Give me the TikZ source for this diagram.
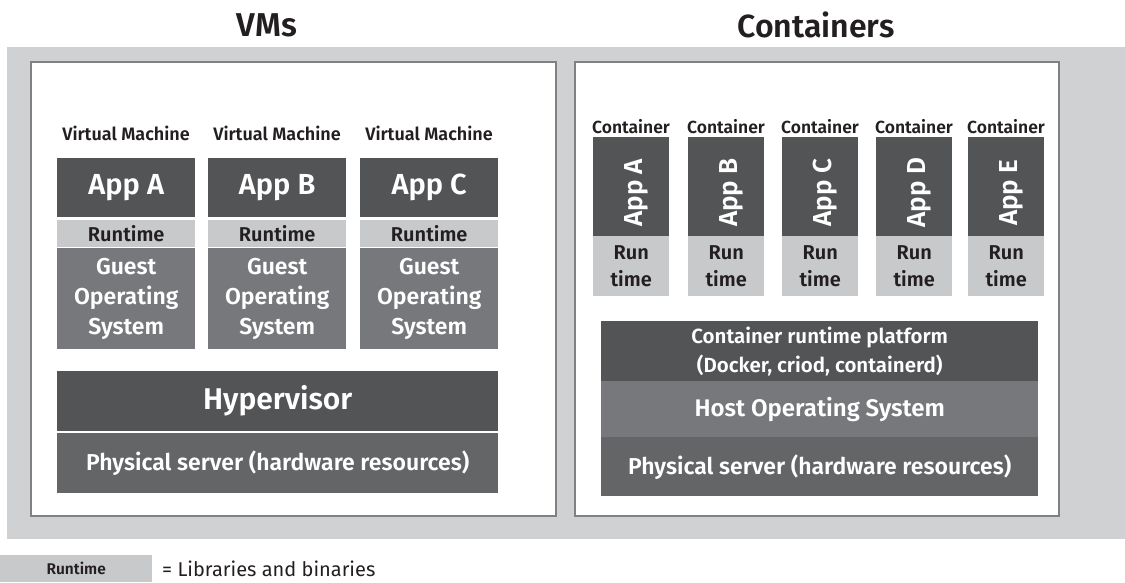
\documentclass[tikz,border=0pt]{standalone}
\usepackage{fontspec}
\setmainfont{Fira Sans}[BoldFont={Fira Sans SemiBold}]
\definecolor{frame}{HTML}{D0D1D3}
\definecolor{edge}{HTML}{808185}
\definecolor{darkbox}{HTML}{535456}
\definecolor{midbox}{HTML}{77787C}
\definecolor{physbox}{HTML}{646567}
\definecolor{rtbox}{HTML}{C8C9CB}
\definecolor{ink}{HTML}{231F20}
\tikzset{
  blk/.style={draw=none, inner sep=0pt, anchor=north west, align=center, font=\bfseries},
  appbox/.style={blk, fill=darkbox, text=white},
  osbox/.style={blk, fill=midbox, text=white},
  physical/.style={blk, fill=physbox, text=white},
  rtblock/.style={blk, fill=rtbox, text=ink},
  lbl/.style={inner sep=0pt, text=ink, font=\bfseries},
}
\begin{document}
\begin{tikzpicture}[x=1pt,y=-1pt]
\useasboundingbox (0,0) rectangle (1125,582);
% outer gray panel and the two white compartments
\fill[frame] (7,47) rectangle (1125,539);
\draw[edge, fill=white, line width=1.5pt] (31,62) rectangle (556,516);
\draw[edge, fill=white, line width=1.5pt] (575,62) rectangle (1059,516);
% headings
\node[lbl, font=\bfseries\fontsize{33}{33}\selectfont] (vmtitle) at (267,25) {VMs};
\node[lbl, font=\bfseries\fontsize{32}{32}\selectfont] (cttitle) at (816,25) {Containers};

% virtual machine stacks
\foreach \n/\x/\l in {a/57/A, b/208/B, c/360/C}{
  \node[lbl, font=\bfseries\fontsize{18}{18}\selectfont] (vm\n) at (\x+69,133) {Virtual Machine};
  \node[appbox, minimum width=138pt, minimum height=59pt, font=\bfseries\fontsize{29}{29}\selectfont] (app\n) at (\x,158) {App \l};
  \node[rtblock, minimum width=138pt, minimum height=27pt, font=\bfseries\fontsize{20}{20}\selectfont] (rt\n) at (\x,220) {Runtime};
  \node[osbox, minimum width=138pt, minimum height=101pt, font=\bfseries\fontsize{23}{30}\selectfont] (os\n) at (\x,248) {Guest\\Operating\\System};
}
\node[appbox, minimum width=441pt, minimum height=60pt, font=\bfseries\fontsize{30}{30}\selectfont] (hyper) at (57,371) {Hypervisor};
\node[physical, minimum width=441pt, minimum height=60pt, font=\bfseries\fontsize{23}{23}\selectfont] (physvm) at (57,433) {Physical server (hardware resources)};

% container stacks
\foreach \n/\x/\l in {a/593/A, b/688/B, c/782/C, d/876/D, e/968/E}{
  \node[lbl, font=\bfseries\fontsize{17.5}{17.5}\selectfont] (ct\n) at (\x+38,127) {Container};
  \node[appbox, minimum width=76pt, minimum height=99pt] (capp\n) at (\x,137) {};
  \node[text=white, font=\bfseries\fontsize{26}{26}\selectfont, rotate=90, inner sep=0pt] (cappl\n) at ([xshift=5pt,yshift=-6pt]capp\n.center) {App \l};
  \node[rtblock, minimum width=76pt, minimum height=60pt, font=\bfseries\fontsize{20}{27}\selectfont] (crt\n) at (\x,236) {Run\\time};
}
\node[appbox, minimum width=437pt, minimum height=60pt, font=\bfseries\fontsize{20.5}{29}\selectfont] (engine) at (601,321) {Container runtime platform\\(Docker, criod, containerd)};
\node[osbox, minimum width=437pt, minimum height=56pt, font=\bfseries\fontsize{24}{24}\selectfont] (hostos) at (601,381) {Host Operating System};
\node[physical, minimum width=437pt, minimum height=59pt, font=\bfseries\fontsize{23}{23}\selectfont] (physct) at (601,437) {Physical server (hardware resources)};

% legend
\node[rtblock, minimum width=152pt, minimum height=27pt, font=\bfseries\fontsize{15.5}{15.5}\selectfont] (legend) at (0,555) {Runtime};
\node[inner sep=0pt, anchor=west, text=ink, font=\fontsize{20}{20}\selectfont] (legendtxt) at (162,569) {= Libraries and binaries};
\end{tikzpicture}
\end{document}
